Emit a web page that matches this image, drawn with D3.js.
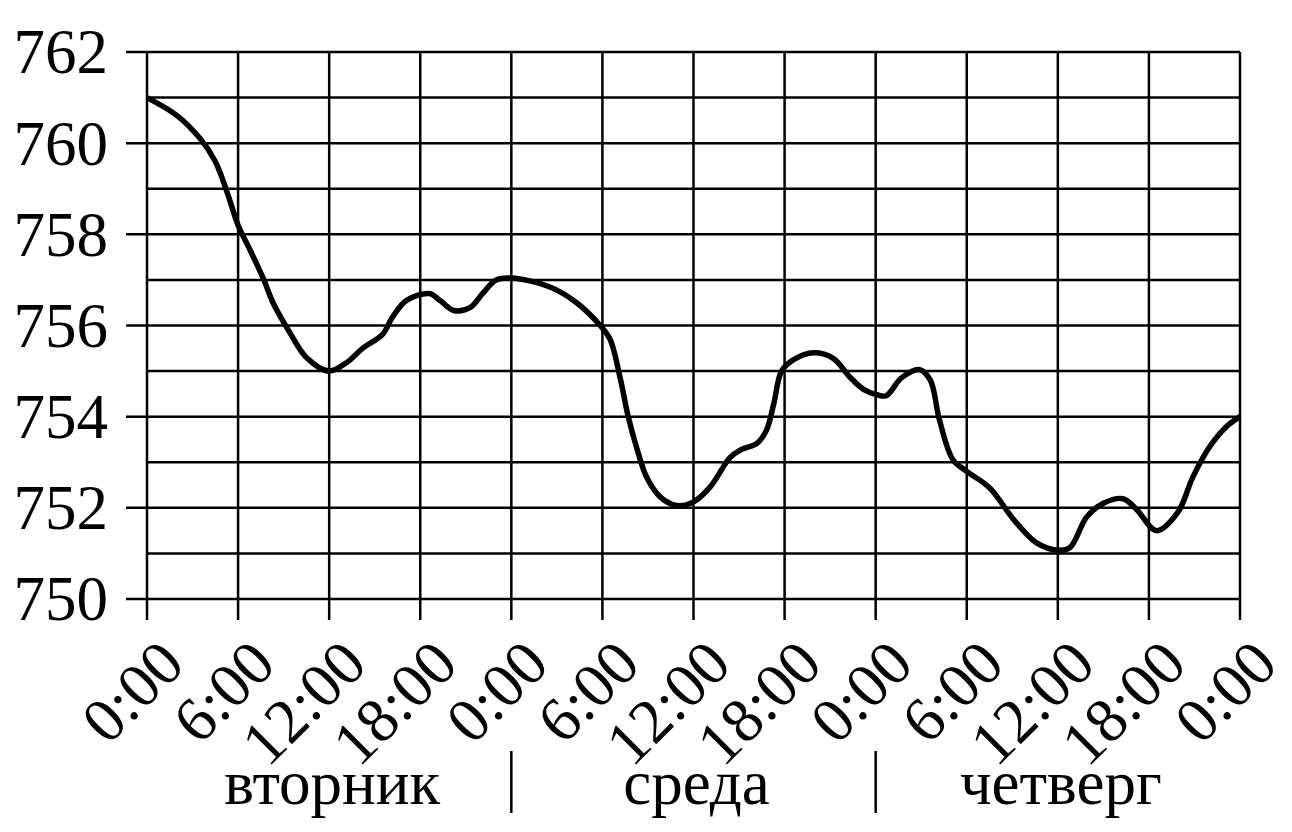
<!DOCTYPE html>
<html>
<head>
<meta charset="utf-8">
<script src="https://cdn.jsdelivr.net/npm/d3@7"></script>
<style>
  body { margin: 0; background: #fff; }
  svg { display: block; }
  text { font-family: "Liberation Serif", "Times New Roman", serif; fill: #000; }
</style>
</head>
<body>
<div id="chart"></div>
<script>
// Hours since Tuesday 0:00 and pressure readings (mm Hg)
const hours = [0, 2, 3.5, 4.5, 5.3, 6, 6.8, 7.7, 8.3, 9.4, 10.5, 12, 13.2, 14.2, 15.5, 16.2, 17.1, 18.6, 19.3, 20.2,
    21.3, 22.1, 23, 24, 26.5, 28.3, 29.85, 30.5, 31.2, 31.7, 32.3, 32.9, 33.8, 34.9, 36, 37.1, 38.4, 39.1, 40.2, 40.8,
    41.3, 41.8, 42.6, 43.9, 45.2, 46.3, 47.2, 48.1, 48.7, 49.7, 50.9, 51.6, 52.2, 53.1, 54, 55.5, 57.1, 58.6, 60, 60.8,
    61.9, 63, 64.3, 65.2, 66.5, 67.9, 68.9, 70, 71.1, 72];
const pressure = [761.0, 760.6, 760.1, 759.6, 758.9, 758.2, 757.65, 757.0, 756.5, 755.85, 755.3, 755.0, 755.2, 755.5, 755.8, 756.2, 756.55, 756.7, 756.55, 756.33,
    756.4, 756.7, 757.0, 757.04, 756.85, 756.5, 756.0, 755.7, 754.8, 754.0, 753.27, 752.68, 752.24, 752.05, 752.13, 752.46, 753.1, 753.27, 753.42, 753.7,
    754.3, 755.0, 755.25, 755.4, 755.28, 754.87, 754.6, 754.48, 754.46, 754.85, 755.03, 754.8, 753.93, 753.05, 752.8, 752.44, 751.74, 751.23, 751.07, 751.13,
    751.8, 752.1, 752.2, 751.96, 751.5, 751.9, 752.68, 753.34, 753.78, 754.0];

const tickHours = d3.range(0, 73, 6);
const tickLabels = ['0:00', '6:00', '12:00', '18:00', '0:00', '6:00', '12:00', '18:00', '0:00', '6:00', '12:00', '18:00', '0:00'];
const yTicks = d3.range(750, 763, 2);
const gridValues = d3.range(750, 763, 1);
const days = ['вторник', 'среда', 'четверг'];

const width = 1292, height = 832;
const margin = { top: 52, right: 52, bottom: 233, left: 147 };

const svg = d3.select('#chart')
    .append('svg')
    .attr('width', width)
    .attr('height', height);

const x = d3.scaleLinear().domain([0, 72]).range([margin.left, width - margin.right]);
const y = d3.scaleLinear().domain([750, 762]).range([height - margin.bottom, margin.top]);

// Horizontal grid (even values stick out to the left as ticks)
svg.append('g')
    .selectAll('line')
    .data(gridValues)
    .enter()
    .append('line')
    .attr('x1', d => d % 2 === 0 ? x(0) - 21 : x(0))
    .attr('x2', x(72))
    .attr('y1', d => y(d))
    .attr('y2', d => y(d))
    .style('stroke', '#000')
    .style('stroke-width', 2.5);

// Vertical grid (extends below as ticks)
svg.append('g')
    .selectAll('line')
    .data(tickHours)
    .enter()
    .append('line')
    .attr('x1', d => x(d))
    .attr('x2', d => x(d))
    .attr('y1', y(762))
    .attr('y2', y(750) + 21)
    .style('stroke', '#000')
    .style('stroke-width', 2.5);

// Y labels
svg.append('g')
    .selectAll('text')
    .data(yTicks)
    .enter()
    .append('text')
    .attr('x', x(0) - 39)
    .attr('y', d => y(d))
    .attr('dy', '0.34em')
    .attr('text-anchor', 'end')
    .style('font-size', '63px')
    .text(d => d);

// X labels, rotated
svg.append('g')
    .selectAll('text')
    .data(tickHours)
    .enter()
    .append('text')
    .attr('transform', d => `translate(${x(d) + 40},${y(750) + 68}) rotate(-45)`)
    .attr('text-anchor', 'end')
    .style('font-size', '63px')
    .text((d, i) => tickLabels[i]);

// Day names and separators
svg.append('g')
    .selectAll('text')
    .data(days)
    .enter()
    .append('text')
    .attr('x', (d, i) => x(i * 24 + 12) + 3)
    .attr('y', 804)
    .attr('text-anchor', 'middle')
    .style('font-size', '63px')
    .text(d => d);

svg.append('g')
    .selectAll('line')
    .data([24, 48])
    .enter()
    .append('line')
    .attr('x1', d => x(d))
    .attr('x2', d => x(d))
    .attr('y1', 751)
    .attr('y2', 813)
    .style('stroke', '#000')
    .style('stroke-width', 2.5);

// Pressure curve
const line = d3.line()
    .x((d, i) => x(hours[i]))
    .y(d => y(d))
    .curve(d3.curveCatmullRom.alpha(0.5));

svg.append('path')
    .datum(pressure)
    .attr('d', line)
    .style('fill', 'none')
    .style('stroke', '#000')
    .style('stroke-width', 5.5)
    .style('stroke-linejoin', 'round');
</script>
</body>
</html>
